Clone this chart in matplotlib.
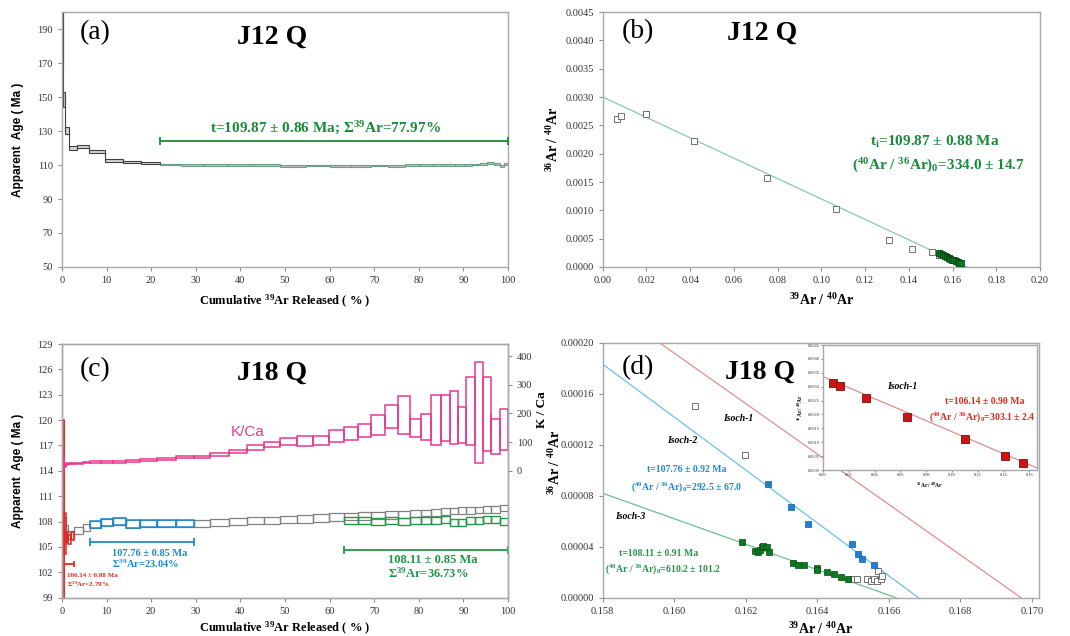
import numpy as np
import matplotlib
matplotlib.use('Agg')
import matplotlib.pyplot as plt
from matplotlib.patches import Rectangle

plt.rcParams['font.family'] = ['Liberation Serif', 'DejaVu Serif']
plt.rcParams['mathtext.fontset'] = 'custom'
plt.rcParams['mathtext.rm'] = 'Liberation Serif'
plt.rcParams['mathtext.bf'] = 'Liberation Serif:bold'
plt.rcParams['mathtext.it'] = 'Liberation Serif:italic'

# ---------------- (a) J12 Q : age spectrum ----------------
edges_a = [0, 0.3, 0.7, 1.6, 3.3, 6.0, 9.6, 13.6, 17.8, 22.0, 26.7, 31.8, 37.1, 42.8,
           48.8, 54.8, 60.0, 64.9, 69.3, 73.2, 76.9, 80.3, 83.2, 85.8, 88.2, 90.3,
           92.0, 93.8, 95.4, 96.8, 98.2, 99.2, 100]
age_a = [215.0, 148.5, 130.2, 120.0, 120.8, 117.9, 112.7, 111.8, 111.2,
         110.3, 110.2, 110.0, 109.8, 109.8, 109.6, 109.7, 109.5, 109.5, 109.7, 109.6,
         109.8, 109.9, 110.0, 110.1, 110.0, 109.8, 110.3, 110.7, 110.9, 110.8, 109.6, 110.6]
err_a = [47.0, 4.5, 2.0, 1.0, 0.9, 0.7, 0.7, 0.6, 0.6,
         0.5, 0.5, 0.5, 0.5, 0.5, 0.5, 0.5, 0.5, 0.5, 0.5, 0.5,
         0.5, 0.5, 0.5, 0.5, 0.5, 0.5, 0.5, 0.6, 0.6, 0.6, 0.6, 0.6]
plat_a_first = 9  # first plateau step

# ---------------- (b) J12 Q : inverse isochron ----------------
open_x_b = [0.0067, 0.0085, 0.0200, 0.0418, 0.0753, 0.1067, 0.1310, 0.1415, 0.1508, 0.1538]
open_y_b = [0.00262, 0.00266, 0.00270, 0.00222, 0.00157, 0.00102, 0.00048, 0.00032, 0.00026, 0.00021]
fill_x_b = [0.1540, 0.1549, 0.1557, 0.1566, 0.1574, 0.1583, 0.1590, 0.1599, 0.1607,
            0.1615, 0.1624, 0.1631, 0.1637]
fill_y_b = [0.000248, 0.000232, 0.000208, 0.000196, 0.000178, 0.000165, 0.000148,
            0.000132, 0.000120, 0.000100, 0.000088, 0.000074, 0.000066]
iso_b = (0.00300, -0.0180)  # intercept, slope

# ---------------- (c) J18 Q : age spectrum + K/Ca ----------------
edges_c = [0, 0.5, 0.8, 1.3, 2.0, 2.8, 4.8, 6.4, 8.7, 11.4, 14.3, 17.6, 21.4, 25.6, 29.6,
           33.3, 37.5, 41.4, 45.3, 49.0, 52.8, 56.4, 59.9, 63.2, 66.4, 69.4, 72.4, 75.3,
           78.0, 80.4, 82.7, 85.0, 87.0, 88.9, 90.7, 92.6, 94.5, 96.3, 98.2, 100]
age_c = [108.0, 107.0, 107.1, 106.4, 106.4, 106.95, 107.3,
         107.65, 107.86, 107.98, 107.7, 107.77, 107.77, 107.77,
         107.8, 107.9, 108.0, 108.1, 108.15, 108.25, 108.3, 108.45, 108.55,
         108.6, 108.66, 108.7, 108.78, 108.85, 108.92, 109.05, 109.1, 109.2,
         109.25, 109.3, 109.35, 109.38, 109.4, 109.45, 109.6]
err_c = [12.0, 1.5, 0.55, 0.5, 0.5, 0.45, 0.42,
         0.42, 0.40, 0.40, 0.45, 0.41, 0.41, 0.41,
         0.40, 0.40, 0.41, 0.41, 0.43, 0.43, 0.43, 0.45, 0.43,
         0.43, 0.43, 0.43, 0.42, 0.41, 0.40, 0.38, 0.38, 0.38,
         0.40, 0.40, 0.40, 0.40, 0.40, 0.40, 0.40]
red_age_c = [108.0, 106.6, 106.2, 105.9, 106.3]
red_err_c = [12.0, 2.4, 0.6, 0.5, 0.5]
blue_steps_c = (7, 14)
green_age_c = [108.1, 108.1, 108.05, 108.1, 108.05, 108.1, 108.15, 108.15, 108.2,
               107.9, 107.85, 108.1, 108.1, 108.25, 108.3, 108.0]
green_err_c = [0.42] * 16
kca_c = [24, 21, 22, 25, 26, 27, 28, 30, 31, 32, 35, 37, 43, 47, 50, 58, 67, 81, 91, 103,
         104, 106, 120, 130, 141, 160, 189, 195, 150, 153, 178, 184, 186, 160, 209, 205,
         198, 121, 145]
kca_err_c = [26, 6, 3, 2, 2, 2, 2, 3, 3, 3, 2.5, 3, 3.5, 3.5, 3.5, 4.5, 5, 8, 9, 12,
             16, 17, 21, 22, 23, 34, 39, 65, 32, 44, 88, 79, 92, 63, 119, 176, 128, 61, 71]

# ---------------- (d) J18 Q : inverse isochrons ----------------
open_x_d = [0.16058, 0.16198, 0.16496, 0.16503, 0.16512, 0.16540, 0.16551, 0.16559,
            0.16567, 0.16570, 0.16578, 0.16582]
open_y_d = [0.0001507, 0.0001119, 0.0000149, 0.0000149, 0.0000149, 0.0000149, 0.0000134,
            0.0000149, 0.0000128, 0.0000210, 0.0000149, 0.0000173]
blue_x_d = [0.16263, 0.16326, 0.16375, 0.16498, 0.16513, 0.16526, 0.16558]
blue_y_d = [0.0000889, 0.0000716, 0.0000577, 0.0000425, 0.0000341, 0.0000307, 0.0000257]
green_x_d = [0.16188, 0.16225, 0.16235, 0.16239, 0.16244, 0.16248, 0.16258, 0.16265,
             0.16332, 0.16347, 0.16363, 0.16399, 0.16399, 0.16426, 0.16447, 0.16466, 0.16485]
green_y_d = [0.0000438, 0.0000370, 0.0000356, 0.0000375, 0.0000401, 0.0000406, 0.0000396,
             0.0000356, 0.0000275, 0.0000260, 0.0000260, 0.0000233, 0.0000218, 0.0000202,
             0.0000186, 0.0000163, 0.0000149]
red_x_in = [0.0075, 0.0132, 0.0333, 0.0650, 0.1100, 0.1410, 0.1550]
red_y_in = [0.00314, 0.00302, 0.00260, 0.00192, 0.00112, 0.00050, 0.00024]
iso1 = (0.00336, -0.0198)
iso2 = (0.003465, -0.02077)
iso3 = (0.001662, -0.0100)

GRAY = '#808080'
RED = '#e5261e'
BLUE = '#1b8ad3'
GREEN = '#23964a'
DKGREEN = '#1a8a3a'
PINK = '#e8388f'


def draw_steps(ax, edges, ages, errs, ec, fc='none', lw=0.9, z=2):
    for i in range(len(ages)):
        ax.add_patch(Rectangle((edges[i], ages[i] - errs[i]), edges[i + 1] - edges[i],
                               2 * errs[i], ec=ec, fc=fc, lw=lw, zorder=z))
        if i > 0:
            lo, hi = sorted([ages[i - 1], ages[i]])
            ax.vlines(edges[i], lo, hi, colors=ec, lw=lw, zorder=z)


def style(ax):
    for s in ax.spines.values():
        s.set_color('#a8a8a8')
        s.set_linewidth(1.0)
    ax.tick_params(direction='out', length=3, width=0.8, color='#909090',
                   labelsize=7.5, labelcolor='#333333')


def label_text(ax, x, y, s, size, color='black', **kw):
    ax.text(x, y, s, transform=ax.transAxes, ha='center', va='center',
            fontsize=size, color=color, **kw)


def plateau_bar(ax, x0, x1, y, color, cap=3):
    ax.errorbar((x0 + x1) / 2, y, xerr=(x1 - x0) / 2, color=color, lw=1.3,
                capsize=cap, capthick=1.3, zorder=4)


fig = plt.figure(figsize=(10.7, 6.36), dpi=100)
ax_a = fig.add_axes([0.0579, 0.5802, 0.4168, 0.4009])
ax_b = fig.add_axes([0.5633, 0.5802, 0.4087, 0.4009])
ax_c = fig.add_axes([0.0579, 0.0602, 0.4168, 0.3989])
ax_d = fig.add_axes([0.5633, 0.0602, 0.4078, 0.4005])

age_label = 'Apparent  Age ( Ma )'
cum_label = r'Cumulative $^{\mathbf{39}}$Ar Released ( % )'
ratio_y = r'$^{\mathbf{36}}$Ar / $^{\mathbf{40}}$Ar'
ratio_x = r'$^{\mathbf{39}}$Ar / $^{\mathbf{40}}$Ar'

# ---- (a)
ax = ax_a
p = plat_a_first
draw_steps(ax, edges_a[:p + 1], age_a[:p], err_a[:p], ec='#404040', fc='#d4d4d4', lw=0.8)
draw_steps(ax, edges_a[p:], age_a[p:], err_a[p:], ec='#6e9e84', fc='#b4cdbc', lw=0.8)
ax.vlines(edges_a[p], age_a[p - 1], age_a[p], colors='#404040', lw=0.8)
plateau_bar(ax, edges_a[p], edges_a[-1], 124.3, DKGREEN)
ax.set_xlim(0, 100)
ax.set_ylim(50, 200)
ax.set_xticks(np.arange(0, 101, 10))
ax.set_yticks(np.arange(50, 191, 20))
style(ax)
label_text(ax, 0.59, 0.545, r't=109.87 ± 0.86 Ma; Σ$^{\mathbf{39}}$Ar=77.97%', 11,
           DKGREEN, fontweight='bold')
label_text(ax, 0.074, 0.918, '(a)', 20)
label_text(ax, 0.471, 0.902, 'J12 Q', 20, fontweight='bold')

# ---- (b)
ax = ax_b
ax.axline((0, iso_b[0]), slope=iso_b[1], color='#86c9b2', lw=0.9, zorder=1)
ax.plot(open_x_b, open_y_b, 's', ms=3.8, mfc='white', mec='#707070', mew=0.7, zorder=3)
ax.plot(fill_x_b, fill_y_b, 's', ms=4.5, mfc='#0b7a20', mec='#054a12', mew=0.6, zorder=4)
ax.set_xlim(0, 0.20)
ax.set_ylim(0, 0.0045)
ax.set_xticks(np.arange(0, 0.2001, 0.02))
ax.set_yticks(np.arange(0, 0.00451, 0.0005))
ax.xaxis.set_major_formatter('{x:.2f}')
ax.yaxis.set_major_formatter('{x:.4f}')
style(ax)
label_text(ax, 0.76, 0.49, r't$_{\mathbf{i}}$=109.87 ± 0.88 Ma', 11, DKGREEN, fontweight='bold')
label_text(ax, 0.767, 0.396, r'($^{\mathbf{40}}$Ar / $^{\mathbf{36}}$Ar)$_{\mathbf{0}}$=334.0 ± 14.7',
           11, DKGREEN, fontweight='bold')
label_text(ax, 0.081, 0.922, '(b)', 20)
label_text(ax, 0.364, 0.918, 'J12 Q', 20, fontweight='bold')

# ---- (c)
ax = ax_c
draw_steps(ax, edges_c, age_c, err_c, ec=GRAY, lw=0.9)
draw_steps(ax, edges_c[:6], red_age_c, red_err_c, ec=RED, lw=1.1, z=3)
b0, b1 = blue_steps_c
draw_steps(ax, edges_c[b0:b1 + 1], age_c[b0:b1], err_c[b0:b1], ec=BLUE, lw=1.1, z=3)
g0 = len(edges_c) - 1 - len(green_age_c)
draw_steps(ax, edges_c[g0:], green_age_c, green_err_c, ec=GREEN, lw=1.0, z=3)
plateau_bar(ax, edges_c[0], edges_c[5], 102.94, RED, cap=2.5)
plateau_bar(ax, edges_c[b0], edges_c[b1], 105.62, BLUE)
plateau_bar(ax, edges_c[g0], edges_c[-1], 104.64, GREEN)
ax.set_xlim(0, 100)
ax.set_ylim(99, 129)
ax.set_xticks(np.arange(0, 101, 10))
ax.set_yticks(np.arange(99, 130, 3))
style(ax)
ax.text(0.112, 0.176, '107.76 ± 0.85 Ma', transform=ax.transAxes, fontsize=7.5,
        color=BLUE, fontweight='bold', va='center')
ax.text(0.112, 0.133, r'Σ$^{\mathbf{39}}$Ar=23.04%', transform=ax.transAxes, fontsize=7.5,
        color=BLUE, fontweight='bold', va='center')
ax.text(0.731, 0.149, '108.11 ± 0.85 Ma', transform=ax.transAxes, fontsize=9,
        color=GREEN, fontweight='bold', va='center')
ax.text(0.731, 0.097, r'Σ$^{\mathbf{39}}$Ar=36.73%', transform=ax.transAxes, fontsize=9,
        color=GREEN, fontweight='bold', va='center')
ax.text(0.011, 0.086, '106.14 ± 0.88 Ma', transform=ax.transAxes, fontsize=5,
        color=RED, fontweight='bold', va='center')
ax.text(0.011, 0.054, r'Σ$^{\mathbf{39}}$Ar=2.79%', transform=ax.transAxes, fontsize=5,
        color=RED, fontweight='bold', va='center')
label_text(ax, 0.074, 0.898, '(c)', 20)
label_text(ax, 0.471, 0.886, 'J18 Q', 20, fontweight='bold')

ax2 = ax_c.twinx()
draw_steps(ax2, edges_c, kca_c, kca_err_c, ec=PINK, lw=1.1, z=2)
ax2.set_ylim(-442, 442)
ax2.set_yticks(np.arange(0, 401, 100))
style(ax2)
ax2.text(0.417, 0.653, 'K/Ca', transform=ax2.transAxes, ha='center', va='center',
         fontsize=11, color=PINK, family=['Liberation Sans', 'DejaVu Sans'])
ax2.set_ylabel('K / Ca', fontsize=9.5, fontweight='bold')
ax2.yaxis.set_label_coords(1.076, 0.74)
ax2.yaxis.label.set_va('center')

# ---- (d)
ax = ax_d
ax.axline((0, iso1[0]), slope=iso1[1], color='#e38d8d', lw=0.9, zorder=1)
ax.axline((0, iso2[0]), slope=iso2[1], color='#6cc0e6', lw=0.9, zorder=1)
ax.axline((0, iso3[0]), slope=iso3[1], color='#6cbf93', lw=0.9, zorder=1)
ax.plot(open_x_d, open_y_d, 's', ms=4.3, mfc='white', mec='#707070', mew=0.7, zorder=3)
ax.plot(blue_x_d, blue_y_d, 's', ms=4.5, mfc='#1f7fd0', mec='#1460a0', mew=0.5, zorder=4)
ax.plot(green_x_d, green_y_d, 's', ms=4.5, mfc='#0b7a20', mec='#054a12', mew=0.5, zorder=4)
ax.set_xlim(0.158, 0.1702)
ax.set_ylim(0, 0.0002)
ax.set_xticks(np.arange(0.158, 0.17001, 0.002))
ax.set_yticks(np.arange(0, 0.000201, 0.00004))
ax.xaxis.set_major_formatter('{x:.3f}')
ax.yaxis.set_major_formatter('{x:.5f}')
style(ax)
label_text(ax, 0.081, 0.902, '(d)', 20)
label_text(ax, 0.3605, 0.886, 'J18 Q', 20, fontweight='bold')
label_text(ax, 0.31, 0.702, 'Isoch-1', 7, fontweight='bold', style='italic')
label_text(ax, 0.182, 0.619, 'Isoch-2', 7, fontweight='bold', style='italic')
label_text(ax, 0.063, 0.317, 'Isoch-3', 7, fontweight='bold', style='italic')
label_text(ax, 0.193, 0.505, 't=107.76 ± 0.92 Ma', 7, BLUE, fontweight='bold')
label_text(ax, 0.191, 0.435, r'($^{\mathbf{40}}$Ar / $^{\mathbf{36}}$Ar)$_{\mathbf{0}}$=292.5 ± 67.0',
           7, BLUE, fontweight='bold')
label_text(ax, 0.127, 0.172, 't=108.11 ± 0.91 Ma', 7, GREEN, fontweight='bold')
label_text(ax, 0.138, 0.113, r'($^{\mathbf{40}}$Ar / $^{\mathbf{36}}$Ar)$_{\mathbf{0}}$=610.2 ± 101.2',
           7, GREEN, fontweight='bold')

ins = fig.add_axes([0.7692, 0.261, 0.2, 0.1965])
ins.set_facecolor('white')
ins.axline((0, iso1[0]), slope=iso1[1], color='#e38d8d', lw=0.9, zorder=1)
ins.plot(red_x_in, red_y_in, 's', ms=5.5, mfc='#d01212', mec='#701010', mew=0.6, zorder=3)
ins.set_xlim(0, 0.166)
ins.set_ylim(0, 0.0045)
ins.set_xticks(np.arange(0, 0.161, 0.02))
ins.set_yticks(np.arange(0, 0.00451, 0.0005))
ins.xaxis.set_major_formatter('{x:.2f}')
ins.yaxis.set_major_formatter('{x:.4f}')
style(ins)
ins.tick_params(labelsize=3.2, length=1.5, pad=1)
ins.set_xlabel(ratio_x, fontsize=4, fontweight='bold', labelpad=2)
ins.set_ylabel(ratio_y, fontsize=4, fontweight='bold', labelpad=2)
label_text(ins, 0.369, 0.672, 'Isoch-1', 7, fontweight='bold', style='italic')
label_text(ins, 0.757, 0.552, 't=106.14 ± 0.90 Ma', 7, RED, fontweight='bold')
label_text(ins, 0.743, 0.424, r'($^{\mathbf{40}}$Ar / $^{\mathbf{36}}$Ar)$_{\mathbf{0}}$=303.1 ± 2.4',
           7, RED, fontweight='bold')

# ---- axis labels
for ax in (ax_a, ax_c):
    ax.set_ylabel(age_label, fontsize=8.5, fontweight='bold',
                  family=['Liberation Sans', 'DejaVu Sans'])
    ax.yaxis.set_label_coords(-0.099, 0.5)
    ax.set_xlabel(cum_label, fontsize=9, fontweight='bold')
for ax in (ax_b, ax_d):
    ax.set_ylabel(ratio_y, fontsize=10, fontweight='bold')
    ax.set_xlabel(ratio_x, fontsize=10, fontweight='bold')
ax_b.yaxis.set_label_coords(-0.114, 0.5)
ax_d.yaxis.set_label_coords(-0.109, 0.53)
ax_a.xaxis.set_label_coords(0.5, -0.137)
ax_b.xaxis.set_label_coords(0.5, -0.13)
ax_c.xaxis.set_label_coords(0.5, -0.123)
ax_d.xaxis.set_label_coords(0.5, -0.123)
for ax in (ax_a, ax_b, ax_c, ax_d):
    ax.xaxis.label.set_va('center')
    ax.yaxis.label.set_va('center')

fig.savefig('out.png', dpi=100)
